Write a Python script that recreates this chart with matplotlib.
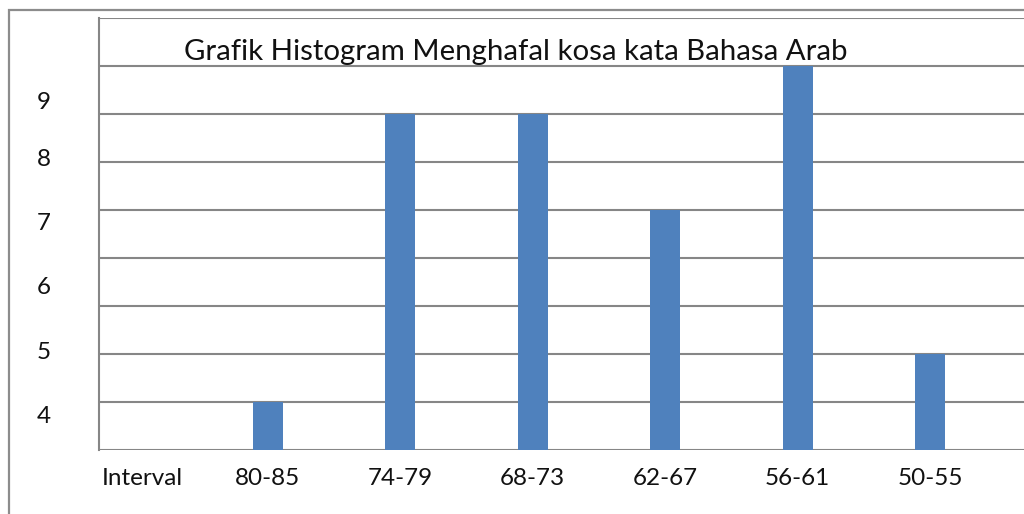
import matplotlib
matplotlib.use("Agg")
import matplotlib.pyplot as plt
from matplotlib.patches import Rectangle
from matplotlib.transforms import ScaledTranslation

categories = ["Interval", "80-85", "74-79", "68-73", "62-67", "56-61", "50-55"]
frequencies = [0, 1, 7, 7, 5, 8, 2]
side_labels = ["9", "8", "7", "6", "5", "4"]
title = "Grafik Histogram Menghafal kosa kata Bahasa Arab"

W, H = 1024, 514
plt.rcParams['font.family'] = ['Lato', 'DejaVu Sans']
fig = plt.figure(figsize=(W / 100, H / 100), dpi=100)

grid_c = "#868686"
bar_c = "#4F81BD"

# outer frame
fig.patches.append(Rectangle((9 / W, -0.1), 1.2, 1 - 10 / H + 0.1, transform=fig.transFigure,
                             fill=False, edgecolor="#8c8c8c", linewidth=1.6, zorder=0))

ax = fig.add_axes([99 / W, (H - 450) / H, (W - 99) / W, 432 / H])
x = list(range(len(categories)))
ax.bar(x, frequencies, width=0.227, color=bar_c, zorder=3)
ax.set_ylim(0, 9)
ax.set_xlim(-(135.6 - 99) / 132.4, (W - 135.6) / 132.4)
ax.set_yticks(range(0, 10))
ax.yaxis.grid(True, color=grid_c, linewidth=1.5)
ax.set_axisbelow(True)
ax.tick_params(axis='y', left=False, labelleft=False)
ax.set_xticks(x)
ax.set_xticklabels(categories, fontsize=17.5, color="#111111")
ax.tick_params(axis='x', length=0, pad=13)
first = ax.xaxis.get_major_ticks()[0].label1
first.set_transform(first.get_transform() + ScaledTranslation(0.07, 0, fig.dpi_scale_trans))
for s in ["top", "right", "bottom"]:
    ax.spines[s].set_visible(False)
ax.spines["left"].set_color(grid_c)
ax.spines["left"].set_linewidth(1.5)

fig.text(516 / W, 1 - 52 / H, title, ha="center", va="center", fontsize=21.2, color="#111111")

ys = [102.7, 160, 224, 288, 352.7, 416.7]
for lab, yp in zip(side_labels, ys):
    fig.text(44 / W, 1 - yp / H, lab, ha="center", va="center", fontsize=17.5, color="#111111")

fig.savefig("out.png", dpi=100)
